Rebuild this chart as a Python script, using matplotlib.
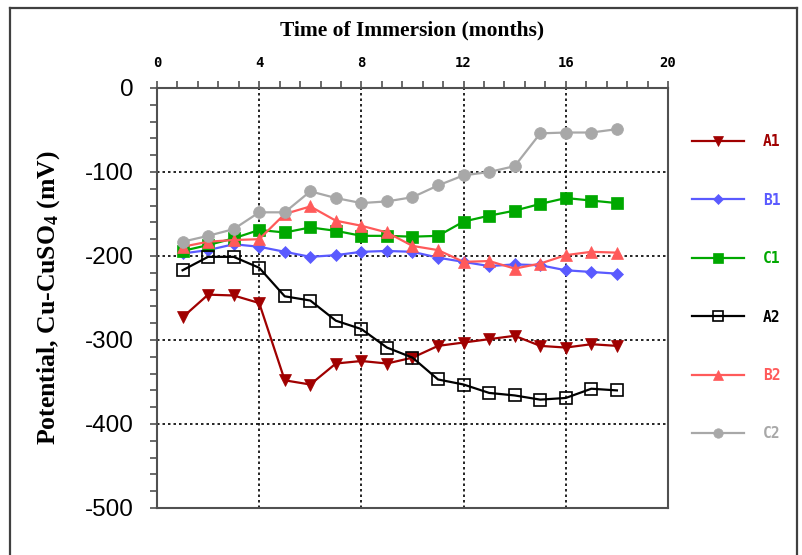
import matplotlib.pyplot as plt
from matplotlib.ticker import MultipleLocator
from matplotlib.lines import Line2D

plt.rcParams['axes.unicode_minus'] = False
plt.rcParams['mathtext.fontset'] = 'custom'
plt.rcParams['mathtext.rm'] = 'Liberation Serif:bold'
plt.rcParams['mathtext.it'] = 'Liberation Serif:bold'
plt.rcParams['mathtext.bf'] = 'Liberation Serif:bold'

months = list(range(1, 19))

a1 = [-273, -246, -247, -256, -348, -353, -328, -325, -328, -321,
      -307, -303, -299, -295, -307, -309, -305, -307]
b1 = [-197, -193, -186, -189, -195, -201, -199, -195, -194, -195,
      -202, -207, -212, -210, -211, -217, -219, -221]
c1 = [-194, -187, -179, -169, -172, -166, -170, -176, -176, -177,
      -176, -159, -152, -146, -138, -131, -134, -137]
a2 = [-217, -201, -201, -214, -248, -253, -277, -287, -309, -321,
      -347, -353, -363, -366, -371, -369, -358, -360]
b2 = [-189, -183, -181, -180, -150, -141, -158, -164, -172, -188,
      -193, -207, -206, -215, -209, -199, -195, -196]
c2 = [-183, -176, -168, -148, -148, -123, -131, -137, -135, -130,
      -116, -104, -100, -93, -54, -53, -53, -49]

series = [
    ('A1', a1, '#A00000', 'v', 'full'),
    ('B1', b1, '#5A5AFF', 'D', 'full'),
    ('C1', c1, '#00A800', 's', 'full'),
    ('A2', a2, '#000000', 's', 'none'),
    ('B2', b2, '#FF5A5A', '^', 'full'),
    ('C2', c2, '#A8A8A8', 'o', 'full'),
]
msizes = {'v': 9, 'D': 6.5, 's': 8.5, '^': 9, 'o': 8.5}

fig = plt.figure(figsize=(8.03, 5.55), dpi=100)
ax = fig.add_axes([157 / 803, 1 - 508 / 555, (668 - 157) / 803, (508 - 88) / 555])

for name, vals, col, mk, fill in series:
    ax.plot(months, vals, color=col, lw=1.6, marker=mk, ms=msizes[mk],
            fillstyle=fill, mfc=('none' if fill == 'none' else col),
            mec=col, mew=1.2 if fill == 'none' else 0.5, label=name)

ax.set_xlim(0, 20)
ax.set_ylim(-500, 0)
ax.xaxis.set_major_locator(MultipleLocator(4))
ax.xaxis.set_minor_locator(MultipleLocator(0.8))
ax.yaxis.set_major_locator(MultipleLocator(100))
ax.yaxis.set_minor_locator(MultipleLocator(20))
ax.xaxis.tick_top()
ax.tick_params(axis='x', which='both', direction='out', length=5, width=1.2,
               color='#505050', pad=8, top=True, bottom=False)
ax.tick_params(axis='y', which='both', direction='out', length=5, width=1.2,
               color='#505050', pad=12, left=True, right=False)
for lab in ax.get_xticklabels():
    lab.set_fontfamily('DejaVu Sans Mono')
    lab.set_fontweight('bold')
    lab.set_fontsize(10)
for lab in ax.get_yticklabels():
    lab.set_fontfamily('Liberation Sans')
    lab.set_fontsize(17.5)

for sp in ax.spines.values():
    sp.set_color('#505050')
    sp.set_linewidth(1.5)

ax.grid(True, which='major', color='black', linestyle=(0, (1.5, 1.8)), lw=1.2)

ax.set_title('Time of Immersion (months)', fontfamily='Liberation Serif',
             fontweight='bold', fontsize=15.5, pad=38)
ax.set_ylabel('Potential, Cu-CuSO$_4$ (mV)', fontfamily='Liberation Serif',
              fontweight='bold', fontsize=18.5, labelpad=16)

leg = fig.legend(loc='upper left', bbox_to_anchor=(679 / 803, 1 - 121 / 555),
                 frameon=False, handlelength=3.56, handletextpad=1.3,
                 labelspacing=2.98, labelcolor='linecolor', markerscale=0.8,
                 prop={'family': 'DejaVu Sans Mono', 'weight': 'bold', 'size': 10.5})

# outer frame of the figure
for xs, ys in [([10 / 803, 10 / 803], [0, 1 - 8 / 555]),
               ([10 / 803, 797 / 803], [1 - 8 / 555, 1 - 8 / 555]),
               ([797 / 803, 797 / 803], [0, 1 - 8 / 555])]:
    fig.add_artist(Line2D(xs, ys, color='#404040', lw=1.6))

fig.savefig('out.png', dpi=100)
